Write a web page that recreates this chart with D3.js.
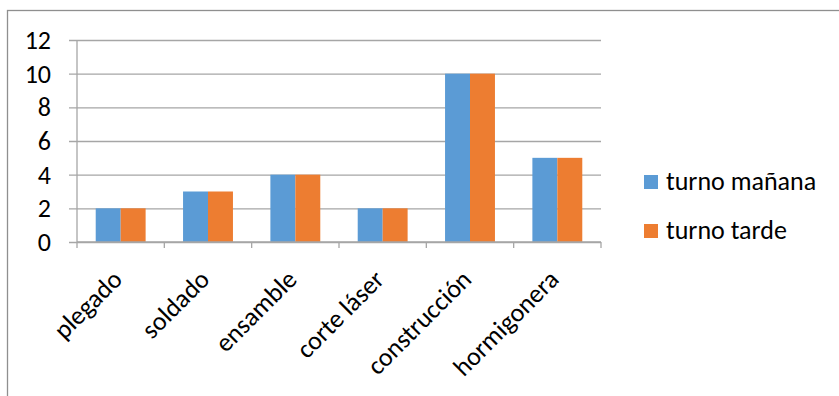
<!DOCTYPE html>
<html>
<head>
<meta charset="utf-8">
<script src="https://cdn.jsdelivr.net/npm/d3@7"></script>
<style>
  html, body { margin: 0; padding: 0; background: #fff; }
  svg { display: block; }
  text { font-family: Calibri, Carlito, "Open Sans", sans-serif; fill: #000; }
</style>
</head>
<body>
<svg id="chart" width="839" height="396"></svg>
<script>
// Workshop areas and the count for each shift
const categories = ["plegado", "soldado", "ensamble", "corte láser", "construcción", "hormigonera"];
const seriesNames = ["turno mañana", "turno tarde"];
const morningValues = [2, 3, 4, 2, 10, 5];
const afternoonValues = [2, 3, 4, 2, 10, 5];
const yTicks = [0, 2, 4, 6, 8, 10, 12];
const colors = ["#5B9BD5", "#ED7D31"];

const seriesValues = [morningValues, afternoonValues];
const rows = categories.map((c, i) => ({ category: c, values: seriesValues.map(s => s[i]) }));

const svg = d3.select("#chart");
const fontSize = 26;

// Outer chart frame (runs past the right and bottom edges)
svg.append("rect")
  .attr("x", 7.5).attr("y", 10.5)
  .attr("width", 860).attr("height", 420)
  .attr("fill", "none").attr("stroke", "#8f8f8f").attr("stroke-width", 1.3);

const plot = { left: 77, right: 601, top: 40, bottom: 242 };

const y = d3.scaleLinear().domain([0, 12]).range([plot.bottom, plot.top]);
const x = d3.scaleBand().domain(categories).range([plot.left, plot.right]).paddingInner(0).paddingOuter(0);

// Excel-style gap width of 150%: each bar is step / (2 + 1.5)
const barW = x.step() / 3.5;
const xSub = d3.scaleBand().domain(d3.range(seriesNames.length))
  .range([0.75 * barW, 0.75 * barW + 2 * barW]);

// Horizontal gridlines, extending left past the axis as tick marks
const yAxis = d3.axisLeft(y).tickValues(yTicks).tickSize(0).tickFormat(d3.format("d"));
const gy = svg.append("g").attr("transform", `translate(${plot.right},0)`).call(yAxis);
gy.select(".domain").remove();
gy.selectAll(".tick line").attr("stroke", "#a6a6a6").attr("stroke-width", 1.3)
  .attr("x1", -(plot.right - plot.left) - 8).attr("x2", 0);
gy.selectAll(".tick text").remove();

// Y tick labels
svg.append("g").selectAll("text").data(yTicks).join("text")
  .attr("x", 51).attr("y", d => y(d)).attr("dy", "0.34em")
  .attr("text-anchor", "end").style("font-size", fontSize + "px")
  .text(d => d);

// Vertical value axis line
svg.append("line")
  .attr("x1", plot.left).attr("x2", plot.left)
  .attr("y1", plot.top).attr("y2", plot.bottom)
  .attr("stroke", "#a6a6a6").attr("stroke-width", 1.3);

// Bars
const groups = svg.append("g").selectAll("g").data(rows).join("g")
  .attr("transform", d => `translate(${x(d.category)},0)`);
groups.selectAll("rect").data(d => d.values.map((v, i) => ({ v, i }))).join("rect")
  .attr("x", d => xSub(d.i)).attr("width", xSub.bandwidth())
  .attr("y", d => y(d.v)).attr("height", d => y(0) - y(d.v))
  .attr("fill", d => colors[d.i]);

// Category axis with tick marks at category boundaries
const boundaries = d3.range(categories.length + 1).map(i => plot.left + i * x.step());
svg.append("line")
  .attr("x1", plot.left).attr("x2", plot.right)
  .attr("y1", plot.bottom).attr("y2", plot.bottom)
  .attr("stroke", "#a6a6a6").attr("stroke-width", 1.3);
svg.append("g").selectAll("line").data(boundaries).join("line")
  .attr("x1", d => d).attr("x2", d => d)
  .attr("y1", plot.bottom).attr("y2", plot.bottom + 6)
  .attr("stroke", "#a6a6a6").attr("stroke-width", 1.3);

// Rotated category labels
svg.append("g").selectAll("text").data(categories).join("text")
  .attr("transform", d => `translate(${x(d) + x.bandwidth() / 2 + 3},${plot.bottom + 39}) rotate(-45)`)
  .attr("text-anchor", "end").style("font-size", fontSize + "px")
  .text(d => d);

// Legend
const legend = svg.append("g").selectAll("g").data(seriesNames).join("g")
  .attr("transform", (d, i) => `translate(644,${175 + i * 49})`);
legend.append("rect").attr("width", 14).attr("height", 14).attr("fill", (d, i) => colors[i]);
legend.append("text").attr("x", 22).attr("y", 15)
  .style("font-size", fontSize + "px").text(d => d);
</script>
</body>
</html>
